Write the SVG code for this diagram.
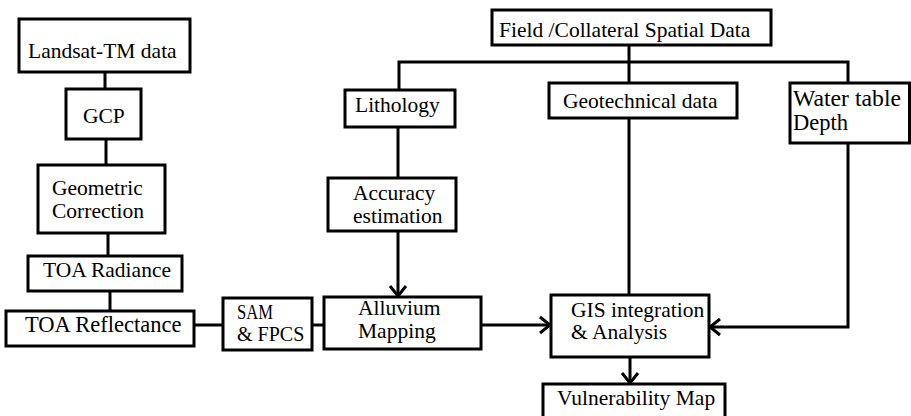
<svg xmlns="http://www.w3.org/2000/svg" width="911" height="416" viewBox="0 0 911 416">
<style>
.box{fill:#fff;stroke:#000;stroke-width:3}
.ln{fill:none;stroke:#000;stroke-width:3}
.t{font-family:'Liberation Serif','Times New Roman',Tinos,'DejaVu Serif',serif;font-size:21.5px;fill:#000}
</style>
<defs>
<marker id="arr" markerUnits="userSpaceOnUse" markerWidth="14" markerHeight="20" viewBox="0 0 14 20" refX="12" refY="10" orient="auto">
<path d="M2,2 L12,10 L2,18" fill="none" stroke="#000" stroke-width="3"/>
</marker>
</defs>
<rect width="911" height="416" fill="#fff"/>
<g id="connectors">
<line class="ln" x1="105" y1="72" x2="105" y2="89"/>
<line class="ln" x1="106" y1="139" x2="106" y2="165"/>
<line class="ln" x1="108" y1="233" x2="108" y2="256"/>
<line class="ln" x1="110" y1="291" x2="110" y2="311"/>
<line class="ln" x1="194" y1="325" x2="223" y2="325"/>
<line class="ln" x1="312" y1="325" x2="324" y2="325"/>
<line class="ln" x1="481" y1="325" x2="550" y2="325" marker-end="url(#arr)"/>
<line class="ln" x1="398" y1="127" x2="398" y2="178"/>
<line class="ln" x1="398" y1="231" x2="398" y2="296" marker-end="url(#arr)"/>
<path class="ln" d="M399,90 V62 H848 V83"/>
<line class="ln" x1="629" y1="45" x2="629" y2="83"/>
<line class="ln" x1="629" y1="118" x2="629" y2="295"/>
<path class="ln" d="M848,143 V327 H710" marker-end="url(#arr)"/>
<line class="ln" x1="630" y1="357" x2="630" y2="383" marker-end="url(#arr)"/>
</g>
<g class="t">
<g id="landsat"><rect class="box" x="19" y="19" width="171" height="53"/><text x="28" y="58">Landsat-TM data</text></g>
<g id="gcp"><rect class="box" x="66" y="89" width="75" height="50"/><text x="83" y="123">GCP</text></g>
<g id="geometric"><rect class="box" x="38" y="165" width="127" height="68"/><text x="52" y="195">Geometric</text><text x="52" y="218">Correction</text></g>
<g id="toa-radiance"><rect class="box" x="28" y="256" width="154" height="35"/><text x="43" y="277">TOA Radiance</text></g>
<g id="toa-reflectance"><rect class="box" x="6" y="311" width="188" height="35"/><text x="25" y="332" font-size="22.5">TOA Reflectance</text></g>
<g id="sam"><rect class="box" x="223" y="298" width="89" height="52"/><text x="237" y="319" font-size="20" textLength="36" lengthAdjust="spacingAndGlyphs">SAM</text><text x="237" y="341" font-size="20">&amp; FPCS</text></g>
<g id="alluvium"><rect class="box" x="324" y="297" width="157" height="52"/><text x="358" y="315">Alluvium</text><text x="358" y="338">Mapping</text></g>
<g id="accuracy"><rect class="box" x="328" y="178" width="128" height="53"/><text x="353" y="200">Accuracy</text><text x="353" y="223">estimation</text></g>
<g id="lithology"><rect class="box" x="345" y="90" width="110" height="37"/><text x="355" y="112">Lithology</text></g>
<g id="field"><rect class="box" x="492" y="10" width="279" height="35"/><text x="499" y="37">Field /Collateral Spatial Data</text></g>
<g id="geotechnical"><rect class="box" x="549" y="83" width="188" height="35"/><text x="563" y="108">Geotechnical data</text></g>
<g id="water-table"><rect class="box" x="790" y="83" width="119.5" height="60"/><text x="793" y="106" font-size="22.5" textLength="108" lengthAdjust="spacingAndGlyphs">Water table</text><text x="793" y="130" font-size="22.5">Depth</text></g>
<g id="gis"><rect class="box" x="551" y="295" width="158" height="62"/><text x="571" y="317">GIS integration</text><text x="571" y="339">&amp; Analysis</text></g>
<g id="vulnerability"><rect class="box" x="543" y="384" width="182" height="40"/><text x="557" y="405">Vulnerability Map</text></g>
</g>
</svg>
